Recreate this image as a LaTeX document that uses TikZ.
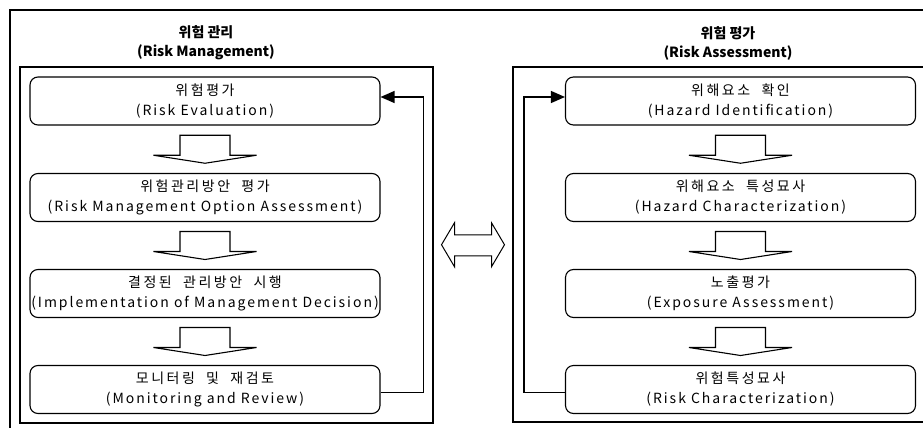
\documentclass[tikz,border=0pt]{standalone}
\usepackage{fontspec}
\setmainfont{Noto Sans CJK KR}
\newfontfamily\latinline[LetterSpace=14]{Noto Sans CJK KR}
\newfontfamily\hangulline[LetterSpace=18,WordSpace=2]{Noto Sans CJK KR}
\usetikzlibrary{arrows.meta,calc}

\tikzset{
  frame/.style={draw, line width=1.6pt},
  groupbox/.style={draw, line width=1.3pt},
  stepbox/.style={draw, line width=1.1pt, rounded corners=8pt,
    minimum width=350pt, minimum height=48pt, inner sep=0pt,
    align=center, font=\fontsize{14}{20}\selectfont},
  grouptitle/.style={align=center, font=\fontsize{14}{19}\selectfont\bfseries},
  blockarrow/.style={draw, line width=1.1pt, fill=white, line join=miter},
  feedback/.style={draw, line width=1.2pt,
    -{Triangle[length=14pt,width=12pt]}},
}
\newcommand{\kline}[1]{{\hangulline #1}}
\newcommand{\eline}[1]{{\latinline #1}}
% hollow downward arrow between two steps
\newcommand{\stepdown}[2]{%
  \path let \p1=($(#1.south)!0.5!(#2.north)$) in
    [blockarrow] (\x1-25,\y1+14) -- (\x1+25,\y1+14) -- (\x1+25,\y1-6)
    -- (\x1+51.5,\y1-6) -- (\x1,\y1-14) -- (\x1-51.5,\y1-6)
    -- (\x1-25,\y1-6) -- cycle;}

\begin{document}
\begin{tikzpicture}[x=1pt,y=-1pt]
\useasboundingbox (0,0) rectangle (923,428);
\clip (0,0) rectangle (923,428);

% outer frame and the two group panels
\draw[frame] (10,10) rectangle (980,470);
\node[groupbox, minimum width=413pt, minimum height=356pt, inner sep=0pt]
  (lgroup) at (226.5,245) {};
\node[groupbox, minimum width=430pt, minimum height=355pt, inner sep=0pt]
  (rgroup) at (728,244.5) {};

% panel titles
\node[grouptitle] (ltitle) at (206,43) {위험 관리\\(Risk Management)};
\node[grouptitle] (rtitle) at (728,43) {위험 평가\\(Risk Assessment)};

% risk management steps
\node[stepbox] (l1) at (205,101)   {\kline{위험평가}\\\eline{(Risk Evaluation)}};
\node[stepbox] (l2) at (205,197.5) {\kline{위험관리방안 평가}\\\eline{(Risk Management Option Assessment)}};
\node[stepbox] (l3) at (205,293.5) {\kline{결정된 관리방안 시행}\\\eline{(Implementation of Management Decision)}};
\node[stepbox] (l4) at (205,389.5) {\kline{모니터링 및 재검토}\\\eline{(Monitoring and Review)}};

% risk assessment steps
\node[stepbox] (r1) at (740.5,101)   {\kline{위해요소 확인}\\\eline{(Hazard Identification)}};
\node[stepbox] (r2) at (740.5,197.5) {\kline{위해요소 특성묘사}\\\eline{(Hazard Characterization)}};
\node[stepbox] (r3) at (740.5,293.5) {\kline{노출평가}\\\eline{(Exposure Assessment)}};
\node[stepbox] (r4) at (740.5,389.5) {\kline{위험특성묘사}\\\eline{(Risk Characterization)}};

% hollow arrows between steps
\stepdown{l1}{l2}
\stepdown{l2}{l3}
\stepdown{l3}{l4}
\stepdown{r1}{r2}
\stepdown{r2}{r3}
\stepdown{r3}{r4}

% feedback loops
\draw[feedback] ($(l4.east)+(0,3)$) -- ++(43,0) |- ($(l1.east)+(0,-4)$);
\draw[feedback] ($(r4.west)+(0,3)$) -- ++(-41,0) |- ($(r1.west)+(0,-4)$);

% two-way exchange between the panels
\coordinate (xc) at ($(lgroup.east)!0.5!(rgroup.west)$);
\draw[blockarrow, line width=1pt] ($(xc)+(-31.5,0)$) -- ++(13,-22) -- ++(0,12)
  -- ++(37,0) -- ++(0,-12) -- ++(13,22) -- ++(-13,22) -- ++(0,-11)
  -- ++(-37,0) -- ++(0,11) -- cycle;
\end{tikzpicture}
\end{document}
